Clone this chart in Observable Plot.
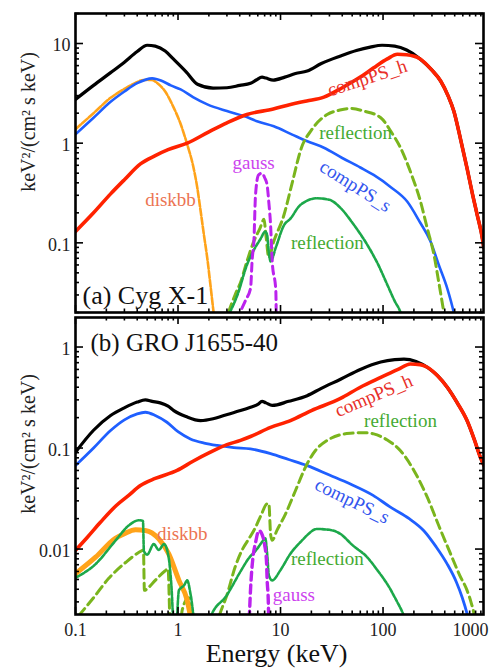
<!DOCTYPE html>
<html><head><meta charset="utf-8">
<script src="https://cdn.jsdelivr.net/npm/d3@7"></script>
<script src="https://cdn.jsdelivr.net/npm/@observablehq/plot@0.6"></script>
<style>
html,body{margin:0;padding:0;background:#fff;}
#wrap{position:relative;width:493px;height:668px;overflow:hidden;}
#wrap svg{position:absolute;left:0;}
</style></head><body><div id="wrap"></div>
<script>
// ---------- tick labels ----------
const xTickLabels = [0.1, 1, 10, 100, 1000];
const yTickLabelsA = [0.1, 1, 10];
const yTickLabelsB = [0.01, 0.1, 1];
const xAxisTitle = "Energy (keV)";
const yAxisTitle = "keV²/(cm² s keV)";
const titleA = "(a) Cyg X-1";
const titleB = "(b) GRO J1655-40";

// ---------- panel (a) Cyg X-1 : [energy keV, E^2 F] ----------
const totalA = [[0.1,2.75],[0.15,3.8],[0.22,5.1],[0.3,6.5],[0.4,8.3],[0.5,9.6],[0.6,9.4],[0.75,8.4],[0.9,7.0],[1.2,5.2],[1.55,3.9],[2.2,3.57],[3,3.6],[4,3.8],[5.1,4.0],[5.8,4.3],[6.6,4.6],[7.2,4.5],[8.5,4.3],[11,4.6],[14,5.0],[18.2,5.3],[25,6.3],[38.5,7.5],[55,8.5],[75,9.2],[98,9.6],[130,9.4],[170,8.6],[230,7.0],[300,5.4],[365,4.2],[430,3.0],[490,2.1],[570,1.1],[660,0.56],[750,0.3],[830,0.19],[935,0.108],[960,0.09]];
const compPShA = [[0.1,0.13],[0.15,0.2],[0.22,0.31],[0.3,0.43],[0.43,0.62],[0.6,0.75],[0.8,0.86],[1.23,1.0],[2,1.3],[3,1.6],[4.7,1.94],[8.5,2.2],[12.5,2.45],[18,2.65],[26.5,2.9],[40,3.6],[60,4.6],[81,5.7],[110,7.0],[138,7.8],[170,7.7],[230,7.0],[300,5.4],[365,4.2],[430,3.0],[490,2.1],[570,1.1],[660,0.56],[750,0.3],[830,0.19],[935,0.108],[960,0.09]];
const compPSsA = [[0.1,1.23],[0.15,1.8],[0.22,2.6],[0.3,3.3],[0.4,4.0],[0.56,4.47],[0.7,4.2],[0.85,3.8],[1.06,3.46],[1.4,2.9],[1.93,2.45],[3,2.1],[4.4,1.87],[6,1.65],[8.6,1.48],[13,1.22],[18,1.05],[26.5,0.9],[40,0.71],[60,0.57],[81,0.48],[120,0.36],[172,0.26],[230,0.16],[290,0.104],[350,0.06],[423,0.035],[490,0.02],[520,0.015]];
const diskbbA = [[0.1,1.38],[0.15,2.0],[0.22,2.85],[0.3,3.5],[0.38,4.0],[0.46,4.3],[0.55,4.3],[0.63,4.0],[0.75,3.3],[0.91,2.26],[1.05,1.6],[1.23,0.97],[1.4,0.6],[1.54,0.36],[1.65,0.22],[1.79,0.12],[1.93,0.07],[2.07,0.038],[2.2,0.022],[2.3,0.015]];
const gaussA = [[4.2,0.022],[4.6,0.027],[5.1,0.035],[5.3,0.07],[5.5,0.104],[5.7,0.3],[6.1,0.48],[6.6,0.5],[7.0,0.45],[7.4,0.38],[7.7,0.25],[8.0,0.15],[8.3,0.065],[9.0,0.033],[9.1,0.015]];
const reflDashA = [[3.1,0.02],[3.6,0.03],[4.07,0.04],[4.7,0.065],[5.5,0.104],[6.3,0.14],[6.9,0.172],[7.2,0.12],[7.7,0.071],[8.5,0.1],[10.8,0.19],[13,0.4],[16,0.9],[20,1.35],[28.5,1.94],[38,2.15],[48,2.23],[65,2.1],[95,1.8],[120,1.3],[148,0.9],[190,0.48],[232,0.26],[270,0.14],[313,0.077],[350,0.04],[392,0.02],[410,0.015]];
const reflDotA = [[3.2,0.02],[3.8,0.03],[4.7,0.06],[5.5,0.085],[6.4,0.11],[7.1,0.13],[7.4,0.12],[7.7,0.08],[8.0,0.065],[9,0.09],[10.8,0.15],[12.5,0.175],[15.6,0.24],[22.8,0.28],[30,0.27],[38.5,0.224],[50,0.16],[70,0.096],[90,0.06],[110,0.038],[130,0.026],[148,0.02],[160,0.015]];

// ---------- panel (b) GRO J1655-40 ----------
const totalB = [[0.1,0.091],[0.15,0.15],[0.22,0.21],[0.3,0.25],[0.4,0.285],[0.48,0.30],[0.56,0.29],[0.67,0.28],[0.8,0.26],[0.91,0.235],[1.2,0.205],[1.66,0.187],[2.2,0.195],[2.8,0.21],[4.07,0.235],[5.1,0.254],[6.0,0.27],[6.6,0.29],[7.2,0.28],[8.3,0.264],[12,0.29],[18.2,0.33],[25,0.39],[38.5,0.48],[60,0.6],[95,0.71],[130,0.75],[160,0.76],[210,0.72],[270,0.63],[340,0.52],[423,0.40],[530,0.28],[660,0.187],[780,0.12],[890,0.081],[960,0.068]];
const compPShB = [[0.1,0.0097],[0.13,0.013],[0.175,0.0184],[0.25,0.027],[0.33,0.034],[0.43,0.0425],[0.6,0.05],[0.98,0.06],[1.4,0.074],[2.07,0.091],[3,0.108],[4.07,0.119],[5.1,0.13],[8,0.16],[12.5,0.187],[20,0.235],[38.5,0.31],[60,0.4],[95,0.5],[140,0.6],[185,0.68],[230,0.67],[270,0.63],[340,0.52],[423,0.40],[530,0.28],[660,0.187],[780,0.12],[890,0.081],[960,0.068]];
const compPSsB = [[0.1,0.067],[0.15,0.1],[0.22,0.149],[0.3,0.19],[0.4,0.218],[0.48,0.226],[0.6,0.21],[0.78,0.18],[1.0,0.145],[1.32,0.123],[1.8,0.112],[2.41,0.106],[3.5,0.101],[5.1,0.098],[8,0.088],[12,0.077],[18.2,0.067],[30,0.054],[48,0.044],[80,0.034],[118,0.026],[180,0.02],[250,0.0152],[330,0.0105],[423,0.0071],[520,0.0047],[593,0.0033],[660,0.0023],[700,0.0018]];
const diskbbB = [[0.1,0.0057],[0.157,0.0083],[0.245,0.0128],[0.3,0.0142],[0.385,0.0155],[0.48,0.0153],[0.65,0.0126],[0.81,0.009],[1.02,0.0049],[1.23,0.0031],[1.32,0.0022],[1.38,0.0018]];
const gaussB = [[4.9,0.0015],[5.1,0.004],[5.4,0.0085],[5.7,0.0115],[6.0,0.0145],[6.2,0.0152],[6.6,0.014],[7.0,0.011],[7.3,0.0075],[7.4,0.005],[7.6,0.003],[7.7,0.0015]];
const reflDashB = [[0.108,0.0022],[0.15,0.0033],[0.21,0.0051],[0.31,0.0074],[0.45,0.0097],[0.46,0.0098],[0.47,0.0039],[0.52,0.0042],[0.6,0.0049],[0.75,0.0061],[0.8,0.0064],[0.84,0.0018],[1.05,0.0018],[1.1,0.0025],[1.27,0.0033],[1.35,0.0018],[2.4,0.0018],[2.5,0.0021],[3,0.0035],[3.6,0.0066],[4.2,0.0097],[5,0.013],[5.7,0.0164],[6.5,0.022],[7.4,0.028],[7.7,0.028],[8.0,0.014],[8.3,0.0122],[9.2,0.0152],[11.2,0.0223],[14,0.038],[18.2,0.07],[22,0.095],[28.5,0.119],[38,0.135],[48,0.14],[65,0.142],[81,0.138],[110,0.12],[148,0.094],[200,0.06],[270,0.0326],[350,0.017],[455,0.009],[560,0.0055],[660,0.0039],[720,0.003],[770,0.0023],[800,0.0018]];
const reflDotB = [[0.1,0.0052],[0.157,0.0071],[0.245,0.0121],[0.33,0.0171],[0.42,0.0193],[0.455,0.019],[0.465,0.0095],[0.5,0.0088],[0.58,0.0112],[0.65,0.0098],[0.73,0.0112],[0.81,0.0083],[0.86,0.0045],[0.91,0.0018],[0.96,0.0018],[1.02,0.0039],[1.15,0.0044],[1.23,0.0049],[1.33,0.0035],[1.48,0.0018],[2.0,0.0018],[2.07,0.0021],[3,0.0035],[4.07,0.006],[4.9,0.0081],[5.8,0.0098],[6.5,0.0115],[7.1,0.0128],[7.4,0.009],[7.7,0.0055],[8.3,0.0049],[10,0.0062],[12.5,0.009],[16,0.012],[22.8,0.0158],[30,0.0155],[38.5,0.0141],[50,0.011],[70,0.0083],[90,0.006],[110,0.0045],[135,0.0031],[159,0.0022],[170,0.0018]];

// ---------- styling ----------
const C = {black:"#000000", red:"#ff2200", blue:"#1f5fff", orange:"#ffa31a", lgreen:"#7ab51d", dgreen:"#1ca84a", magenta:"#bb22ee",
  tRed:"#e8302a", tGreen:"#44aa33", tBlue:"#3355ee", tMag:"#cc44ee", tDisk:"#ec7452"};
const FONT = "'Liberation Serif','Times New Roman',serif";
const W = 493, ML = 75, MR = 10;
const xDomain = [0.1, 955];

function logTicks(lo, hi) {
  const major = [], minor = [];
  for (let p = Math.floor(Math.log10(lo)) - 1; p <= Math.ceil(Math.log10(hi)); p++) {
    for (let k = 1; k <= 9; k++) {
      const v = +(k * Math.pow(10, p)).toPrecision(6);
      if (v >= lo * 0.999 && v <= hi * 1.001) (k === 1 ? major : minor).push(v);
    }
  }
  return {major, minor};
}

const line = (data, opts) => Plot.line(data, {x: d => d[0], y: d => d[1], clip: true, curve: "monotone-x", strokeLinejoin: "round", ...opts});

function panel({height, mt, mb, yDomain, yLabels, series, labels, extra}) {
  const innerH = height - mt - mb, innerW = W - ML - MR;
  const xt = logTicks(xDomain[0], xDomain[1]);
  const yt = logTicks(yDomain[0], yDomain[1]);
  const tk = {stroke: "black", strokeWidth: 1.6};
  const marks = [
    ...series,
    // inward ticks on all four sides
    Plot.tickX(xt.major, {x: d => d, insetTop: innerH - 7, ...tk}),
    Plot.tickX(xt.minor, {x: d => d, insetTop: innerH - 3.5, ...tk}),
    Plot.tickX(xt.major, {x: d => d, insetBottom: innerH - 7, ...tk}),
    Plot.tickX(xt.minor, {x: d => d, insetBottom: innerH - 3.5, ...tk}),
    Plot.tickY(yt.major, {y: d => d, insetRight: innerW - 8, ...tk}),
    Plot.tickY(yt.minor, {y: d => d, insetRight: innerW - 4, ...tk}),
    Plot.tickY(yt.major, {y: d => d, insetLeft: innerW - 8, ...tk}),
    Plot.tickY(yt.minor, {y: d => d, insetLeft: innerW - 4, ...tk}),
    Plot.frame({stroke: "black", strokeWidth: 2.6}),
    Plot.text(yLabels, {y: d => d, text: d => String(d), frameAnchor: "left", textAnchor: "end", lineAnchor: "middle", dx: -5, dy: 2, fontSize: 18, fill: "#222"}),
    Plot.text([yAxisTitle], {frameAnchor: "left", textAnchor: "middle", lineAnchor: "middle", dx: -47, dy: extra.ytDy, rotate: -90, fontSize: 20, fill: "#222"}),
    ...labels.map(l => Plot.text([l.text], {x: l.E, y: l.F, text: d => d, fill: l.color, fontSize: 19, rotate: l.rot || 0})),
    ...extra.marks
  ];
  return Plot.plot({
    width: W, height, marginTop: mt, marginBottom: mb, marginLeft: ML, marginRight: MR,
    x: {type: "log", domain: xDomain, axis: null},
    y: {type: "log", domain: yDomain, axis: null},
    style: {fontFamily: FONT, background: "white", color: "black", overflow: "visible"},
    marks
  });
}

const seriesA = [
  line(totalA, {stroke: C.black, strokeWidth: 3.2}),
  line(diskbbA, {stroke: C.orange, strokeWidth: 2.6, strokeDasharray: "7,2"}),
  line(compPSsA, {stroke: C.blue, strokeWidth: 2.6}),
  line(compPShA, {stroke: C.red, strokeWidth: 3.6}),
  line(reflDashA, {stroke: C.lgreen, strokeWidth: 3, strokeDasharray: "9,5"}),
  line(reflDotA, {stroke: C.dgreen, strokeWidth: 2.6, strokeDasharray: "4,1.5"}),
  line(gaussA, {stroke: C.magenta, strokeWidth: 3, strokeDasharray: "8,5"})
];
const labelsA = [
  {text: "compPS_h", E: 70, F: 4.5, rot: -18, color: C.tRed},
  {text: "reflection", E: 54, F: 1.27, color: C.tGreen},
  {text: "compPS_s", E: 54, F: 0.37, rot: 32, color: C.tBlue},
  {text: "reflection", E: 28.6, F: 0.1, color: C.tGreen},
  {text: "gauss", E: 5.46, F: 0.64, color: C.tMag},
  {text: "diskbb", E: 0.845, F: 0.27, color: C.tDisk}
];
const plotA = panel({
  height: 314, mt: 13, mb: 2, yDomain: [0.02, 20], yLabels: yTickLabelsA,
  series: seriesA, labels: labelsA,
  extra: {ytDy: -41, marks: [
    Plot.text([titleA], {frameAnchor: "bottom-left", dx: 7, dy: -17, textAnchor: "start", lineAnchor: "middle", fontSize: 26, fill: "#111"})
  ]}
});

const seriesB = [
  line(totalB, {stroke: C.black, strokeWidth: 3.2}),
  line(compPSsB, {stroke: C.blue, strokeWidth: 2.8}),
  line(compPShB, {stroke: C.red, strokeWidth: 3.6}),
  line(reflDashB, {stroke: C.lgreen, strokeWidth: 3, strokeDasharray: "9,5"}),
  line(diskbbB, {stroke: C.orange, strokeWidth: 5}),
  line(reflDotB, {stroke: C.dgreen, strokeWidth: 2.6, strokeDasharray: "4,1.5"}),
  line(gaussB, {stroke: C.magenta, strokeWidth: 3.4, strokeDasharray: "8,5"})
];
const labelsB = [
  {text: "compPS_h", E: 81, F: 0.33, rot: -23, color: C.tRed},
  {text: "reflection", E: 148, F: 0.187, color: C.tGreen},
  {text: "compPS_s", E: 50, F: 0.030, rot: 26, color: C.tBlue},
  {text: "reflection", E: 28.6, F: 0.008, color: C.tGreen},
  {text: "gauss", E: 13.5, F: 0.0035, color: C.tMag},
  {text: "diskbb", E: 1.1, F: 0.0141, color: C.tDisk}
];
const xLabelsMid = xTickLabels.filter(d => d <= xDomain[1]);
const xLabelsEnd = xTickLabels.filter(d => d > xDomain[1]);
const plotB = panel({
  height: 354, mt: 3, mb: 54, yDomain: [0.00225, 1.96], yLabels: yTickLabelsB,
  series: seriesB, labels: labelsB,
  extra: {ytDy: -22, marks: [
    Plot.text([titleB], {frameAnchor: "top-left", dx: 15, dy: 25, textAnchor: "start", lineAnchor: "middle", fontSize: 25, fill: "#111"}),
    Plot.text(xLabelsMid, {x: d => d, text: d => String(d), frameAnchor: "bottom", lineAnchor: "middle", dy: 16, fontSize: 18, fill: "#222"}),
    Plot.text(xLabelsEnd, {x: () => xDomain[1], text: d => String(d), frameAnchor: "bottom", lineAnchor: "middle", dy: 16, dx: 5, textAnchor: "end", fontSize: 18, fill: "#222"}),
    Plot.text([xAxisTitle], {frameAnchor: "bottom", lineAnchor: "middle", dy: 39, dx: -3, fontSize: 26, fill: "#111"})
  ]}
});

const wrap = document.getElementById("wrap");
plotA.style.top = "0px";
plotB.style.top = "314px";
wrap.appendChild(plotA);
wrap.appendChild(plotB);
</script></body></html>
